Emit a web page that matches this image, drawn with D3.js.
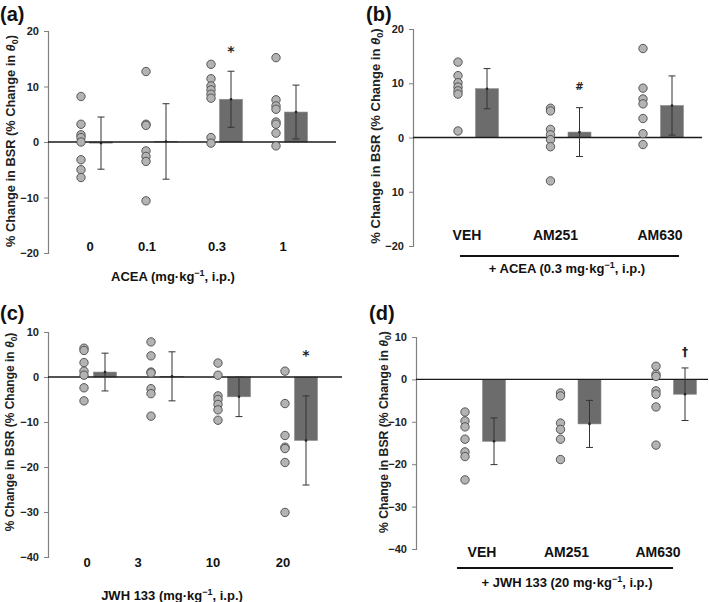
<!DOCTYPE html>
<html><head><meta charset="utf-8">
<script src="https://cdn.jsdelivr.net/npm/d3@7"></script>
<style>body{margin:0;background:#fff}svg{display:block}text{font-family:"Liberation Sans",Arial,sans-serif}</style>
</head><body><svg id="c" width="709" height="602"></svg>
<script>
// ---------- data ----------
const aCategories = ["0","0.1","0.3","1"];
const aDots = [
  [8.2,3.2,1.3,0.8,0.0,-3.2,-5.0,-6.4],
  [12.7,3.2,3.0,-1.6,-2.6,-3.5,-10.6],
  [14.0,11.4,10.1,9.4,8.6,7.9,0.8,-0.2],
  [15.2,7.6,6.5,5.9,3.6,3.2,1.6,-0.7]];
const aMeans = [-0.2,0.1,7.7,5.4];
const aSD = [4.7,6.8,5.05,4.85];
const aTicks = [-20,-10,0,10,20];
const aTickLabels = ["\u221220","\u221210","0","10","20"];

const bCategories = ["VEH","AM251","AM630"];
const bDots = [
  [13.9,11.4,10.1,9.3,8.6,8.0,1.2],
  [5.4,4.9,1.5,0.5,-0.4,-1.7,-8.0],
  [16.4,9.1,7.1,6.2,3.5,0.7,-1.3]];
const bMeans = [9.0,1.0,5.9];
const bSD = [3.7,4.5,5.45];
const bTicks = [-20,-10,0,10,20];
const bTickLabels = ["\u221220","10","0","10","20"];

const cCategories = ["0","3","10","20"];
const cDots = [
  [6.4,5.9,3.2,1.3,0.4,-2.4,-5.3],
  [7.8,4.7,1.1,0.9,-2.6,-3.7,-8.7],
  [3.1,0.4,-4.2,-5.0,-6.1,-7.3,-9.6],
  [1.3,-5.9,-13.0,-15.6,-15.9,-19.0,-30.1]];
const cMeans = [1.1,0.15,-4.4,-14.1];
const cSD = [4.2,5.45,4.4,9.9];
const cTicks = [-40,-30,-20,-10,0,10];
const cTickLabels = ["\u221240","\u221230","\u221220","\u221210","0","10"];

const dCategories = ["VEH","AM251","AM630"];
const dDots = [
  [-7.7,-9.8,-11.2,-14.1,-17.1,-18.2,-23.7],
  [-3.2,-3.9,-10.3,-11.8,-14.1,-18.9],
  [3.1,1.2,0.7,-2.7,-3.5,-6.5,-15.5]];
const dMeans = [-14.6,-10.5,-3.5];
const dSD = [5.5,5.55,6.2];
const dTicks = [-40,-30,-20,-10,0,10];
const dTickLabels = ["\u221240","\u221230","\u221220","\u221210","0","10"];

const yTitle = "% Change in BSR (% Change in ";

// ---------- drawing ----------
const svg = d3.select("#c");

function panel(o){
  const g = svg.append("g");
  const y = d3.scaleLinear().domain(o.domain).range([o.yBot,o.yTop]);
  const x = d3.scalePoint().domain(o.categories).range(o.dotRange);
  g.append("text").attr("x",o.letterX).attr("y",o.letterY).attr("font-size",20).attr("font-weight","bold").attr("fill","#111").text(o.letter);
  const ax = g.append("g").attr("transform",`translate(${o.axisX},0)`)
    .call(d3.axisLeft(y).tickValues(o.ticks).tickFormat((d,i)=>o.tickLabels[i]).tickSizeOuter(0).tickSize(4).tickPadding(5));
  ax.select(".domain").attr("stroke","#808080").attr("stroke-width",1.2);
  ax.selectAll(".tick line").attr("stroke","#808080");
  ax.selectAll(".tick text").attr("font-size",11).attr("font-weight","bold").attr("fill","#222").attr("font-family","Liberation Sans, Arial, sans-serif");
  o.categories.forEach((c,i)=>{
    const m = o.means[i];
    const bx = x(c)+o.barOff;
    g.append("rect").attr("x",bx-o.barW/2).attr("width",o.barW)
      .attr("y",Math.min(y(m),y(0))).attr("height",Math.abs(y(m)-y(0)))
      .attr("fill","#6c6c6c").attr("stroke","#8c8c8c").attr("stroke-width",0.6);
  });
  g.append("line").attr("x1",o.axisX).attr("x2",o.zeroEnd).attr("y1",y(0)).attr("y2",y(0)).attr("stroke","#1a1a1a").attr("stroke-width",1.4);
  o.categories.forEach((c,i)=>{
    const m=o.means[i], s=o.sd[i], bx=x(c)+o.barOff;
    g.append("line").attr("x1",bx).attr("x2",bx).attr("y1",y(m+s)).attr("y2",y(m-s)).attr("stroke","#333").attr("stroke-width",1);
    [m+s,m-s].forEach(v=>g.append("line").attr("x1",bx-3.5).attr("x2",bx+3.5).attr("y1",y(v)).attr("y2",y(v)).attr("stroke","#333").attr("stroke-width",1));
    g.append("circle").attr("cx",bx).attr("cy",y(m)).attr("r",1.3).attr("fill","#222");
  });
  o.categories.forEach((c,i)=>{
    g.selectAll(null).data(o.dots[i]).enter().append("circle")
      .attr("cx",x(c)).attr("cy",d=>y(d)).attr("r",4.2)
      .attr("fill","#b3b3b3").attr("stroke","#4a4a4a").attr("stroke-width",0.9);
  });
  o.categories.forEach((c,i)=>{
    g.append("text").attr("x",x(c)+o.labelOff[i]).attr("y",o.labelY).attr("text-anchor","middle")
      .attr("font-size",o.catSize).attr("font-weight","bold").attr("fill","#111").text(c);
  });
  o.marks.forEach(mk=>{
    g.append("text").attr("x",x(mk.cat)+o.barOff).attr("y",mk.y).attr("text-anchor","middle")
      .attr("font-size",mk.size).attr("font-weight","bold").attr("fill","#222")
      .style("font-family","'DejaVu Sans', sans-serif").text(mk.t);
  });
  if(o.groupLine){
    g.append("line").attr("x1",o.groupLine[0]).attr("x2",o.groupLine[1]).attr("y1",o.groupLine[2]).attr("y2",o.groupLine[2]).attr("stroke","#111").attr("stroke-width",2);
  }
  const xt = g.append("text").attr("x",o.xTitleX).attr("y",o.xTitleY).attr("text-anchor","middle")
    .attr("font-size",13).attr("font-weight","bold").attr("fill","#111");
  xt.append("tspan").text(o.xTitle[0]);
  xt.append("tspan").attr("font-size",9).attr("dy",-5).text("\u22121");
  xt.append("tspan").attr("dy",5).text(o.xTitle[1]);
  const yt = g.append("text").attr("transform",`translate(${o.yTitleX},${o.yTitleY}) rotate(-90)`)
    .attr("text-anchor","middle").attr("font-size",o.yTitleSize).attr("font-weight","bold").attr("fill","#222");
  yt.append("tspan").text(yTitle);
  yt.append("tspan").attr("font-style","italic").text("\u03b8");
  yt.append("tspan").attr("font-size",o.yTitleSize*0.7).attr("dy",3).text("0");
  yt.append("tspan").attr("dy",-3).text(")");
}

panel({letter:"(a)",letterX:0,letterY:21,axisX:48,domain:[-20,20],yTop:31,yBot:253,
  ticks:aTicks,tickLabels:aTickLabels,categories:aCategories,dotRange:[81,276],barOff:20,barW:23,
  labelOff:[9,1,6,7],labelY:251,catSize:13,zeroEnd:336,dots:aDots,means:aMeans,sd:aSD,
  marks:[{cat:"0.3",t:"*",y:56,size:14}],groupLine:null,
  xTitle:["ACEA (mg\u00b7kg",", i.p.)"],xTitleX:173,xTitleY:281,yTitleX:15,yTitleY:141,yTitleSize:12.8});

panel({letter:"(b)",letterX:366,letterY:21,axisX:413,domain:[-20,20],yTop:29,yBot:246,
  ticks:bTicks,tickLabels:bTickLabels,categories:bCategories,dotRange:[458,643],barOff:29,barW:23,
  labelOff:[9,5,17],labelY:240,catSize:14,zeroEnd:702,dots:bDots,means:bMeans,sd:bSD,
  marks:[{cat:"AM251",t:"#",y:90,size:10}],groupLine:[460,679,256],
  xTitle:["+ ACEA (0.3 mg\u00b7kg",", i.p.)"],xTitleX:567,xTitleY:273,yTitleX:380,yTitleY:136,yTitleSize:13});

panel({letter:"(c)",letterX:0,letterY:320,axisX:48,domain:[-40,10],yTop:332,yBot:557,
  ticks:cTicks,tickLabels:cTickLabels,categories:cCategories,dotRange:[84,285],barOff:21,barW:23,
  labelOff:[3,-13,-5,-2],labelY:567,catSize:13,zeroEnd:342,dots:cDots,means:cMeans,sd:cSD,
  marks:[{cat:"20",t:"*",y:360,size:14}],groupLine:null,
  xTitle:["JWH 133 (mg\u00b7kg",", i.p.)"],xTitleX:172,xTitleY:600,yTitleX:14,yTitleY:432,yTitleSize:12});

panel({letter:"(d)",letterX:369,letterY:320,axisX:416,domain:[-40,10],yTop:337,yBot:549,
  ticks:dTicks,tickLabels:dTickLabels,categories:dCategories,dotRange:[465,656],barOff:29,barW:23,
  labelOff:[17,6,2],labelY:557,catSize:14,zeroEnd:708,dots:dDots,means:dMeans,sd:dSD,
  marks:[{cat:"AM630",t:"\u2020",y:356,size:12}],groupLine:[457,673,568],
  xTitle:["+ JWH 133 (20 mg\u00b7kg",", i.p.)"],xTitleX:567,xTitleY:587,yTitleX:388,yTitleY:432,yTitleSize:12.2});
</script></body></html>
